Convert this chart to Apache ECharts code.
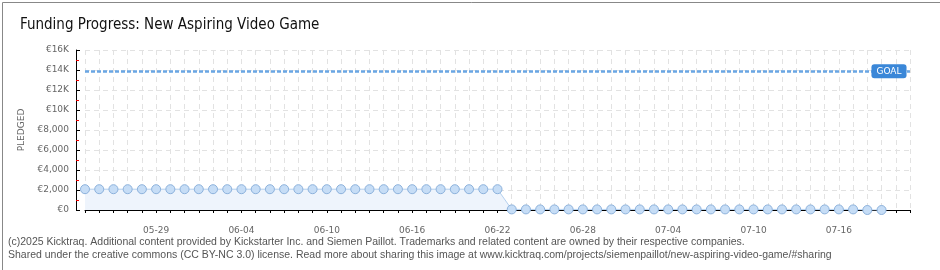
<!DOCTYPE html>
<html><head><meta charset="utf-8">
<script src="https://cdn.jsdelivr.net/npm/echarts@6/dist/echarts.min.js"></script>
<style>html,body{margin:0;padding:0;background:#fff}#c{width:940px;height:270px}</style>
</head><body><div id="c"></div>
<script>
var dates = ['05-24','05-25','05-26','05-27','05-28','05-29','05-30','05-31','06-01','06-02','06-03','06-04','06-05','06-06','06-07','06-08','06-09','06-10','06-11','06-12','06-13','06-14','06-15','06-16','06-17','06-18','06-19','06-20','06-21','06-22','06-23','06-24','06-25','06-26','06-27','06-28','06-29','06-30','07-01','07-02','07-03','07-04','07-05','07-06','07-07','07-08','07-09','07-10','07-11','07-12','07-13','07-14','07-15','07-16','07-17','07-18','07-19','07-20','07-21'];
var pledged = [2080,2080,2080,2080,2080,2080,2080,2080,2080,2080,2080,2080,2080,2080,2080,2080,2080,2080,2080,2080,2080,2080,2080,2080,2080,2080,2080,2080,2080,2080,
  60,60,60,60,60,60,60,60,60,60,60,60,60,60,60,60,60,60,60,60,60,60,60,60,60,0,0];
var goal = 13880;
var yTicks = {0:'€0',2000:'€2,000',4000:'€4,000',6000:'€6,000',8000:'€8,000',10000:'€10K',12000:'€12K',14000:'€14K',16000:'€16K'};
var titleText = 'Funding Progress: New Aspiring Video Game';
var footer1 = '(c)2025 Kicktraq. Additional content provided by Kickstarter Inc. and Siemen Paillot. Trademarks and related content are owned by their respective companies.';
var footer2 = 'Shared under the creative commons (CC BY-NC 3.0) license. Read more about sharing this image at www.kicktraq.com/projects/siemenpaillot/new-aspiring-video-game/#sharing';

var chart = echarts.init(document.getElementById('c'), null, {renderer:'canvas'});
chart.setOption({
  animation:false,
  backgroundColor:'#fff',
  title:{text:titleText,left:15,top:13,textStyle:{fontFamily:'DejaVu Sans Condensed, sans-serif',fontSize:15,fontWeight:'normal',color:'#111'}},
  graphic:[
    {type:'rect',left:0,top:0,shape:{width:939,height:269},style:{fill:'none',stroke:'#888',lineWidth:1}},
    {type:'text',left:8,top:237,style:{text:footer1,fontFamily:'Liberation Sans, sans-serif',fontSize:10.5,fill:'#555'}},
    {type:'text',left:8,top:250,style:{text:footer2,fontFamily:'Liberation Sans, sans-serif',fontSize:10.5,fill:'#555'}}
  ],
  grid:{left:85,right:30,top:50,bottom:60,containLabel:false},
  xAxis:{type:'category',data:dates,boundaryGap:false,offset:11,
    axisLine:{lineStyle:{color:'#000',width:1}},
    axisTick:{show:true,interval:0,length:3,lineStyle:{color:'#000'}},
    axisLabel:{interval:function(i){return i>=5 && (i-5)%6===0;},color:'#666',fontFamily:'DejaVu Sans',fontSize:9,margin:5},
    splitLine:{show:true,interval:0,lineStyle:{color:'#e2e2e2',type:[5,4]}}},
  yAxis:{type:'value',min:0,max:16000,interval:2000,offset:9,
    name:'PLEDGED',nameLocation:'middle',nameGap:49,nameRotate:90,
    nameTextStyle:{color:'#666',fontFamily:'DejaVu Sans',fontSize:9},
    axisLine:{show:true,lineStyle:{color:'#000',width:1}},
    axisTick:{show:true,length:4,inside:true,lineStyle:{color:'#000'}},
    minorTick:{show:true,splitNumber:2,length:3,lineStyle:{color:'#e00'}},
    axisLabel:{color:'#666',fontFamily:'DejaVu Sans',fontSize:9,margin:7,formatter:function(v){return yTicks[v]!==undefined?yTicks[v]:'';}},
    splitLine:{show:true,lineStyle:{color:'#e2e2e2',type:[5,4]}}},
  series:[{
    type:'line',data:pledged,symbol:'circle',symbolSize:9,showSymbol:true,
    itemStyle:{color:'#c6ddf6',borderColor:'#8db2dc',borderWidth:1},
    lineStyle:{color:'#b3cfee',width:1},
    areaStyle:{color:'#eef4fc',opacity:1},
    z:3,
    markLine:{silent:true,symbol:['none','none'],label:{show:false},
      lineStyle:{color:'#6aa6e4',width:2.5,type:[4,2]},
      data:[{yAxis:goal}]},
    markPoint:{symbol:'circle',symbolSize:0,
      label:{show:true,formatter:'GOAL',color:'#fff',backgroundColor:'#3a87d8',borderRadius:3,padding:[3,5,2,5],
        fontFamily:'DejaVu Sans',fontSize:9,offset:[-21,0]},
      data:[{coord:['07-21',goal]}]}
  }]
});
</script></body></html>
